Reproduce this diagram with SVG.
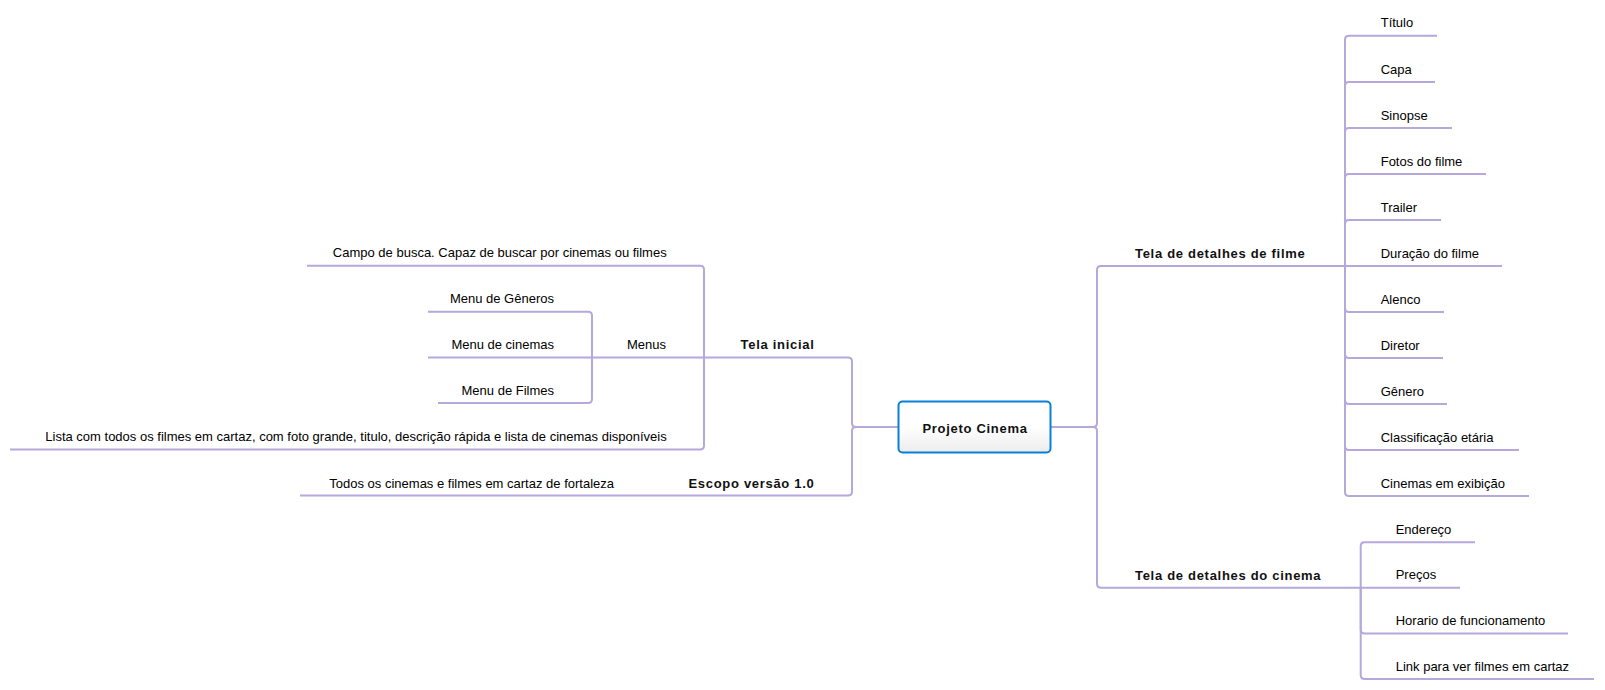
<svg xmlns="http://www.w3.org/2000/svg" width="1605" height="690" viewBox="0 0 1605 690">
<style>
.c{fill:none;stroke:#b5a8db;stroke-width:2;stroke-linecap:butt}
.t{font-family:"Liberation Sans",Arial,sans-serif;font-size:13px;fill:#000}
.b{font-family:"Liberation Sans",Arial,sans-serif;font-size:13px;font-weight:bold;letter-spacing:0.7px;fill:#111}
.e{text-anchor:end}
</style>
<defs>
<linearGradient id="rg" x1="0" y1="0" x2="0" y2="1">
<stop offset="0" stop-color="#ffffff"/>
<stop offset="0.5" stop-color="#ffffff"/>
<stop offset="1" stop-color="#ececec"/>
</linearGradient>
</defs>
<rect width="1605" height="690" fill="#fff"/>
<g id="connectors">
<path class="c" d="M898 427H856Q852 427 852 423V361.5Q852 357.5 848 357.5H704"/>
<path class="c" d="M898 427H856Q852 427 852 431V491.5Q852 495.5 848 495.5H652"/>
<path class="c" d="M652 495.5H300"/>
<path class="c" d="M704 357.5V269.7Q704 265.7 700 265.7H307"/>
<path class="c" d="M704 357.5H592"/>
<path class="c" d="M704 357.5V445.5Q704 449.5 700 449.5H10"/>
<path class="c" d="M592 357.5V315.7Q592 311.7 588 311.7H428"/>
<path class="c" d="M592 357.5H428"/>
<path class="c" d="M592 357.5V399Q592 403 588 403H438"/>
<path class="c" d="M1051 427H1093Q1097 427 1097 423V270Q1097 266 1101 266H1345"/>
<path class="c" d="M1051 427H1093Q1097 427 1097 431V583.7Q1097 587.7 1101 587.7H1360.7"/>
<path class="c" d="M1345 266V39.8Q1345 35.8 1349 35.8H1437"/>
<path class="c" d="M1345 266V86Q1345 82 1349 82H1435"/>
<path class="c" d="M1345 266V132Q1345 128 1349 128H1452"/>
<path class="c" d="M1345 266V178Q1345 174 1349 174H1486"/>
<path class="c" d="M1345 266V224Q1345 220 1349 220H1441"/>
<path class="c" d="M1345 266H1502"/>
<path class="c" d="M1345 266V308Q1345 312 1349 312H1444"/>
<path class="c" d="M1345 266V354Q1345 358 1349 358H1443"/>
<path class="c" d="M1345 266V400Q1345 404 1349 404H1447"/>
<path class="c" d="M1345 266V446Q1345 450 1349 450H1519"/>
<path class="c" d="M1345 266V492Q1345 496 1349 496H1529"/>
<path class="c" d="M1360.7 587.7V546.3Q1360.7 542.3 1364.7 542.3H1475"/>
<path class="c" d="M1360.7 587.7H1460"/>
<path class="c" d="M1360.7 587.7V629.5Q1360.7 633.5 1364.7 633.5H1568"/>
<path class="c" d="M1360.7 587.7V675Q1360.7 679 1364.7 679H1594"/>
</g>
<g id="root">
<rect x="898.5" y="401.5" width="152" height="51" rx="4" ry="4" fill="url(#rg)" stroke="#0b7fd6" stroke-width="2"/>
<text class="b" x="975" y="432.5" text-anchor="middle">Projeto Cinema</text>
</g>
<g id="tela-inicial"><text class="b e" x="814.5" y="349">Tela inicial</text></g>
<g id="escopo"><text class="b e" x="814.5" y="487.5">Escopo versão 1.0</text></g>
<g id="escopo-todos"><text class="t e" x="614" y="487.5">Todos os cinemas e filmes em cartaz de fortaleza</text></g>
<g id="campo-busca"><text class="t e" x="666.7" y="257">Campo de busca. Capaz de buscar por cinemas ou filmes</text></g>
<g id="menus"><text class="t e" x="666" y="349">Menus</text></g>
<g id="lista"><text class="t e" x="666.7" y="441">Lista com todos os filmes em cartaz, com foto grande, titulo, descrição rápida e lista de cinemas disponíveis</text></g>
<g id="menu-generos"><text class="t e" x="554" y="303">Menu de Gêneros</text></g>
<g id="menu-cinemas"><text class="t e" x="554" y="349">Menu de cinemas</text></g>
<g id="menu-filmes"><text class="t e" x="554" y="394.5">Menu de Filmes</text></g>
<g id="tela-filme"><text class="b" x="1135" y="257.5">Tela de detalhes de filme</text></g>
<g id="tela-cinema"><text class="b" x="1135" y="579.5">Tela de detalhes do cinema</text></g>
<g id="titulo"><text class="t" x="1380.7" y="27.3">Título</text></g>
<g id="capa"><text class="t" x="1380.7" y="73.5">Capa</text></g>
<g id="sinopse"><text class="t" x="1380.7" y="119.5">Sinopse</text></g>
<g id="fotos"><text class="t" x="1380.7" y="165.5">Fotos do filme</text></g>
<g id="trailer"><text class="t" x="1380.7" y="211.5">Trailer</text></g>
<g id="duracao"><text class="t" x="1380.7" y="257.5">Duração do filme</text></g>
<g id="alenco"><text class="t" x="1380.7" y="303.5">Alenco</text></g>
<g id="diretor"><text class="t" x="1380.7" y="349.5">Diretor</text></g>
<g id="genero"><text class="t" x="1380.7" y="395.5">Gênero</text></g>
<g id="classificacao"><text class="t" x="1380.7" y="441.5">Classificação etária</text></g>
<g id="cinemas-exibicao"><text class="t" x="1380.7" y="487.5">Cinemas em exibição</text></g>
<g id="endereco"><text class="t" x="1395.7" y="533.8">Endereço</text></g>
<g id="precos"><text class="t" x="1395.7" y="579.2">Preços</text></g>
<g id="horario"><text class="t" x="1395.7" y="625">Horario de funcionamento</text></g>
<g id="link"><text class="t" x="1395.7" y="670.5">Link para ver filmes em cartaz</text></g>
</svg>
